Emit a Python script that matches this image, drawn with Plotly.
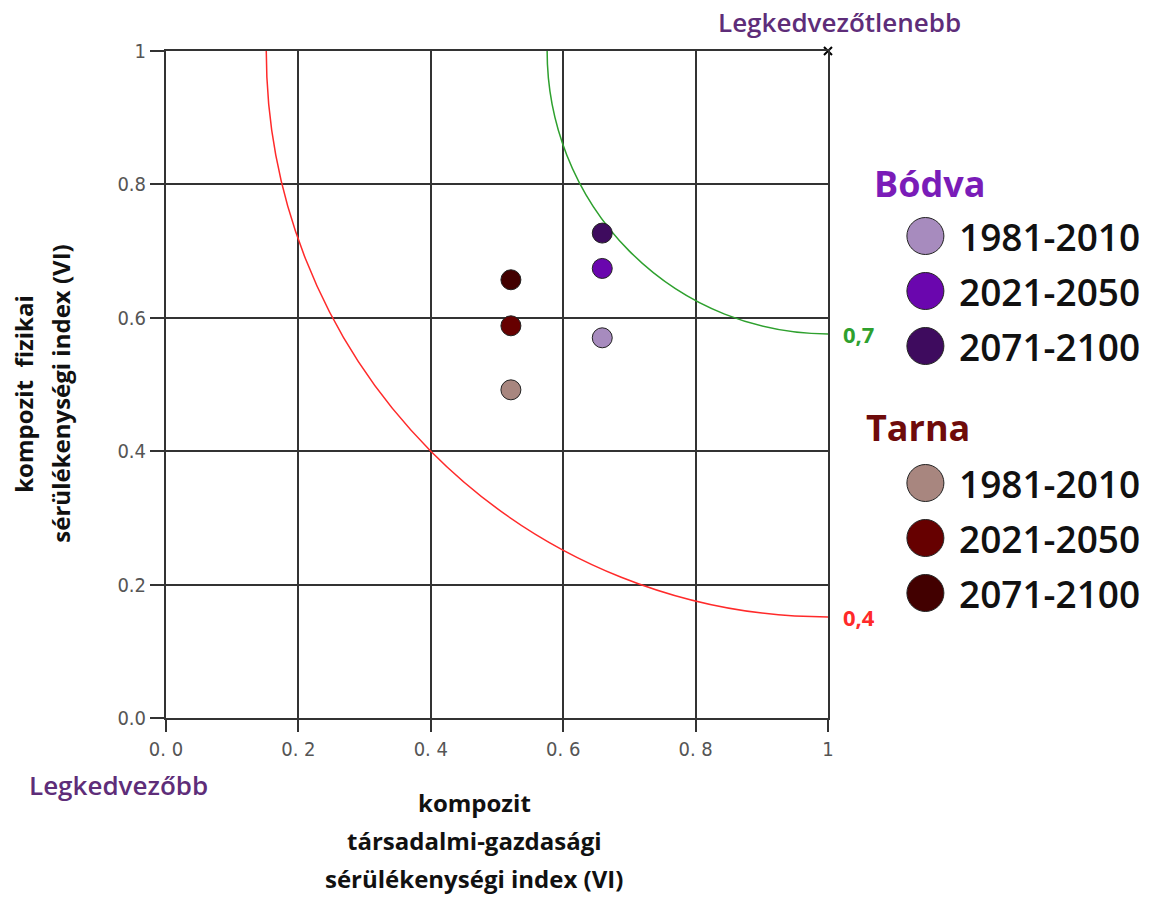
import math
import plotly.graph_objects as go

# ---------------- data ----------------
periods = ["1981-2010", "2021-2050", "2071-2100"]
regions = ["Bódva", "Tarna"]
bodva_x = [0.659, 0.659, 0.659]
bodva_y = [0.570, 0.674, 0.727]
tarna_x = [0.521, 0.521, 0.521]
tarna_y = [0.492, 0.588, 0.657]
bodva_colors = ["#A78BBE", "#6A06AE", "#3E0B5E"]
tarna_colors = ["#A8867F", "#660000", "#420000"]
region_title_colors = ["#7A1CB8", "#6E0B0B"]
iso_levels = [0.4, 0.7]
iso_labels = ["0,4", "0,7"]
iso_colors = ["#FF2A2A", "#2EA02E"]
tick_vals = [0, 0.2, 0.4, 0.6, 0.8, 1]
x_tick_text = ["0. 0", "0. 2", "0. 4", "0. 6", "0. 8", "1"]
y_tick_text = ["0.0", "0.2", "0.4", "0.6", "0.8", "1"]
worst_point = [1, 1]

# ---------------- layout constants ----------------
W, H = 1162, 897
ML, MR, MT, MB = 166, 0, 51, 179
PLOT_W = 666
plot_area_w = W - ML - MR
x_dom_end = PLOT_W / plot_area_w
TEXT_FONT = "Open Sans, Lato, DejaVu Sans, sans-serif"
TICK_FONT = "Liberation Sans Narrow, DejaVu Sans Condensed, Liberation Sans, Arial, sans-serif"
GRID = "#333333"


def px_x(px):
    return (px - ML) / plot_area_w


def px_y(py):
    return (H - MB - py) / (H - MB - MT)


fig = go.Figure()

# data points
for xs, ys, cols, reg in [(bodva_x, bodva_y, bodva_colors, regions[0]),
                          (tarna_x, tarna_y, tarna_colors, regions[1])]:
    for xv, yv, c, p in zip(xs, ys, cols, periods):
        fig.add_trace(go.Scatter(
            x=[xv], y=[yv], mode="markers", name=f"{reg} {p}",
            marker=dict(size=20, color=c, line=dict(color="#222222", width=1)),
            showlegend=False, cliponaxis=False))

# worst corner marker
fig.add_trace(go.Scatter(
    x=[worst_point[0]], y=[worst_point[1]], mode="markers", showlegend=False,
    marker=dict(symbol="x-thin", size=8, line=dict(color="black", width=2)),
    cliponaxis=False))

# iso-vulnerability arcs centred on the worst corner
shapes = []
annotations = []
for lvl, lab, col in zip(iso_levels, iso_labels, iso_colors):
    r = (1 - lvl) * math.sqrt(2)
    shapes.append(dict(type="circle", xref="x", yref="y",
                       x0=1 - r, x1=1 + r, y0=1 - r, y1=1 + r,
                       line=dict(color=col, width=1.5), layer="between"))
    annotations.append(dict(x=1, y=1 - r, xref="x", yref="y", text=lab,
                            showarrow=False, xanchor="left", xshift=13,
                            font=dict(family=TEXT_FONT, size=22, color=col, weight="bold")))

# corner texts
annotations.append(dict(x=px_x(968), y=px_y(22), xref="paper", yref="paper",
                        text="Legkedvezőtlenebb",
                        showarrow=False, xanchor="right", yanchor="middle",
                        font=dict(family=TEXT_FONT, size=26, color="#5E2D79", weight=600)))
annotations.append(dict(x=px_x(26), y=px_y(785), xref="paper", yref="paper",
                        text="Legkedvezőbb",
                        showarrow=False, xanchor="left", yanchor="middle",
                        font=dict(family=TEXT_FONT, size=26, color="#5E2D79", weight=600)))

# axis titles
x_title_lines = ["kompozit", "társadalmi-gazdasági", "sérülékenységi index (VI)"]
for i, t in enumerate(x_title_lines):
    annotations.append(dict(x=px_x(476), y=px_y(802 + 38 * i), xref="paper", yref="paper",
                            text=t, showarrow=False, xanchor="center", yanchor="middle",
                            font=dict(family=TEXT_FONT, size=24, color="#111111", weight="bold")))
y_title_lines = ["kompozit  fizikai", "sérülékenységi index (VI)"]
for i, t in enumerate(y_title_lines):
    annotations.append(dict(x=px_x(23 + 37 * i), y=px_y(394), xref="paper", yref="paper",
                            text=t, showarrow=False, textangle=-90,
                            xanchor="center", yanchor="middle",
                            font=dict(family=TEXT_FONT, size=24, color="#111111", weight="bold")))

# custom legend (in pixel-unit overlay axes)
LEG_MARK_X = 930
LEG_TEXT_X = 962
leg_title_x = [876, 868]
leg_title_y = [183, 427]
leg_row0 = [236, 483]
ROW_STEP = 55
for reg, tc, cols, tx, ty, r0 in zip(regions, region_title_colors, [bodva_colors, tarna_colors],
                                     leg_title_x, leg_title_y, leg_row0):
    annotations.append(dict(x=tx, y=ty, xref="x2", yref="y2", text=reg,
                            showarrow=False, xanchor="left", yanchor="middle",
                            font=dict(family=TEXT_FONT, size=36, color=tc, weight="bold")))
    ys = [r0 + ROW_STEP * i for i in range(len(periods))]
    fig.add_trace(go.Scatter(
        x=[LEG_MARK_X] * len(periods), y=ys, xaxis="x2", yaxis="y2", mode="markers",
        marker=dict(size=37, color=cols, line=dict(color="#222222", width=1)),
        showlegend=False, hoverinfo="skip", cliponaxis=False))
    for p, yv in zip(periods, ys):
        annotations.append(dict(x=LEG_TEXT_X, y=yv, xref="x2", yref="y2", text=p,
                                showarrow=False, xanchor="left", yanchor="middle",
                                font=dict(family=TEXT_FONT, size=37, color="#111111", weight=600)))

axis_common = dict(
    range=[0, 1], tickmode="array", tickvals=tick_vals,
    ticks="outside", tickwidth=2, tickcolor=GRID,
    showgrid=True, gridcolor=GRID, gridwidth=2,
    showline=True, linecolor=GRID, linewidth=2, mirror=True,
    zeroline=False, fixedrange=True,
    tickfont=dict(family=TICK_FONT, size=20, color="#555555"),
)

fig.update_layout(
    width=W, height=H,
    margin=dict(l=ML, r=MR, t=MT, b=MB, pad=0),
    paper_bgcolor="white", plot_bgcolor="white",
    showlegend=False,
    xaxis=dict(domain=[0, x_dom_end], ticklen=12, ticktext=x_tick_text, **axis_common),
    yaxis=dict(domain=[0, 1], ticklen=14, ticktext=y_tick_text, **axis_common),
    xaxis2=dict(domain=[x_dom_end, 1], range=[ML + PLOT_W, W], visible=False, anchor="y2"),
    yaxis2=dict(domain=[0, 1], range=[H - MB, MT], visible=False, anchor="x2"),
    shapes=shapes, annotations=annotations,
)

fig.write_html("out.html", config={"displayModeBar": False},
               post_script="document.body.style.margin='0';document.body.style.overflow='hidden';")
